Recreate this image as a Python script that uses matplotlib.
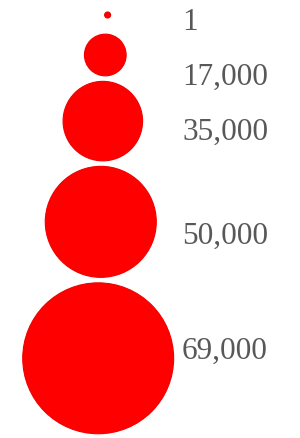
import matplotlib.pyplot as plt
from matplotlib.patches import Circle

# legend values and their labels
values = [1, 17000, 35000, 50000, 69000]
labels = ['1', '17,000', '35,000', '50,000', '69,000']

# linear radius scale (pixels)
r_min, r_per_unit = 3.0, 0.00105
gap = 5.5            # space between stacked circles
min_step = 40        # minimum centre-to-centre spacing
label_base = [30, 85, 140, 244, 359]  # text baselines

fig = plt.figure(figsize=(3.0, 4.38), dpi=100)
ax = fig.add_axes([0, 0, 1, 1])
ax.set_xlim(0, 300)
ax.set_ylim(438, 0)
ax.set_aspect('equal')
ax.axis('off')

cy, prev_r = None, None
for v, lab, ly in zip(values, labels, label_base):
    r = r_min + r_per_unit * v
    if cy is None:
        cy = 15
    else:
        cy = max(cy + min_step, cy + prev_r + gap + r)
    cx = 108 - 0.13 * r  # circles drift slightly left as they grow
    ax.add_patch(Circle((cx, cy), r, facecolor='#ff0000', edgecolor='#f00000', linewidth=0.8))
    ax.text(182, ly, lab, ha='left', va='baseline', fontsize=22.5,
            family='Liberation Serif', color='#585858')
    prev_r = r

fig.savefig('out.png', dpi=100, facecolor='white')
